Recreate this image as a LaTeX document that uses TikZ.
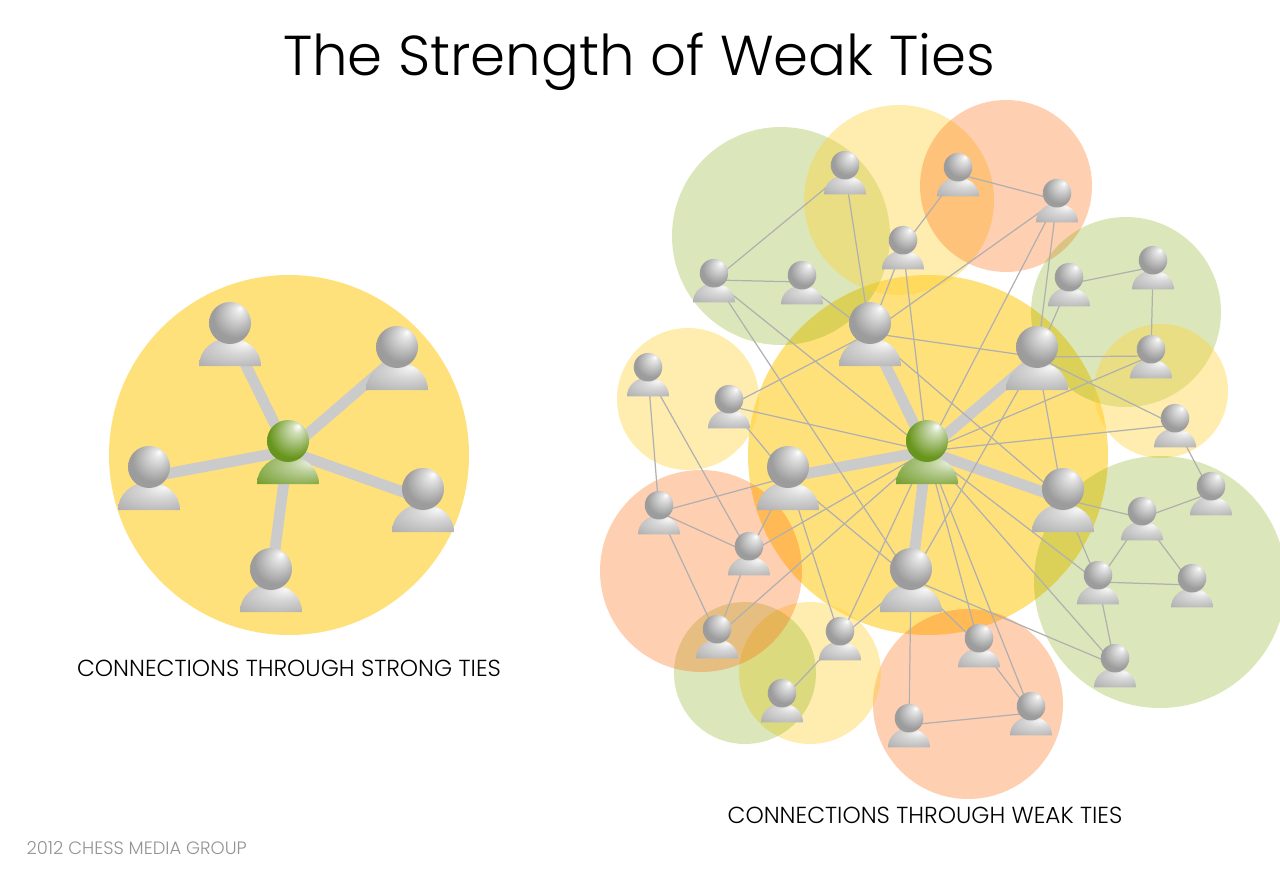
\documentclass[tikz,border=0pt]{standalone}
\usepackage{fontspec}
\setmainfont{Poppins}[UprightFont=* Light]
\usetikzlibrary{backgrounds}

\definecolor{tiegray}{HTML}{CBCBCB}
\definecolor{weakgray}{HTML}{B0B0B0}
\definecolor{headgray}{HTML}{9C9C9C}
\definecolor{headgreen}{HTML}{68951C}
\definecolor{sunyellow}{HTML}{FFD030}
\definecolor{leafgreen}{HTML}{7AA800}
\definecolor{peach}{HTML}{FF6000}

\pgfdeclareradialshading{grayhead}{\pgfpoint{12bp}{18bp}}{color(0bp)=(white);color(5bp)=(headgray!25!white);color(26bp)=(headgray);color(50bp)=(headgray)}
\pgfdeclareradialshading{graydome}{\pgfpoint{12bp}{16bp}}{color(0bp)=(headgray!8!white);color(14bp)=(headgray!40!white);color(50bp)=(headgray)}
\pgfdeclareradialshading{greenhead}{\pgfpoint{12bp}{18bp}}{color(0bp)=(white);color(6bp)=(headgreen!30!white);color(28bp)=(headgreen);color(50bp)=(headgreen)}
\pgfdeclareradialshading{greendome}{\pgfpoint{22bp}{16bp}}{color(0bp)=(headgreen!8!white);color(14bp)=(headgreen!45!white);color(44bp)=(headgreen);color(50bp)=(headgreen)}

\newcommand{\person}[5]{
  \node[hub] (#1) at (#2,#3) {};
  \begin{scope}[shift={(#1)},scale=#4]
    \shade[shading=#5dome] (-31,33) .. controls (-31,17) and (-17,5) .. (0,5) .. controls (17,5) and (31,17) .. (31,33) -- cycle;
    \shade[shading=#5head] (0,-10) circle (21);
  \end{scope}
}

\begin{document}
\begin{tikzpicture}[
  x=0.02cm, y=-0.02cm,
  hub/.style={inner sep=0pt, minimum size=0pt},
  tie/.style={draw=sunyellow, fill=sunyellow, draw opacity=0, fill opacity=0.64},
  palezone/.style={fill=sunyellow, fill opacity=0.39},
  greenzone/.style={fill=leafgreen, fill opacity=0.27},
  peachzone/.style={fill=peach, fill opacity=0.3},
  strong/.style={draw=tiegray, line width=6.2pt},
  weak/.style={draw=weakgray, line width=0.7pt},
  heading/.style={font=\fontsize{32}{36}\selectfont},
  caption/.style={font=\fontsize{13.2}{16}\selectfont},
  credit/.style={font=\fontsize{10.2}{12}\selectfont, text=gray!85}
]
\useasboundingbox (0,0) rectangle (1280,868);

\node[heading] (title) at (639,62) {The Strength of Weak Ties};
\node[caption] (strongcap) at (289,668) {CONNECTIONS THROUGH STRONG TIES};
\node[caption] (weakcap) at (925,815) {CONNECTIONS THROUGH WEAK TIES};
\node[credit, anchor=east] (credit) at (253,848) {2012 CHESS MEDIA GROUP};

\person{s0}{288}{451}{1}{green}
\person{s1}{230}{333}{1}{gray}
\person{s2}{397}{357}{1}{gray}
\person{s3}{149}{477}{1}{gray}
\person{s4}{423}{499}{1}{gray}
\person{s5}{271}{579}{1}{gray}

\person{c}{927}{451}{1}{green}
\person{a1}{870}{333}{1}{gray}
\person{a2}{1037}{357}{1}{gray}
\person{a3}{788}{477}{1}{gray}
\person{a4}{1063}{499}{1}{gray}
\person{a5}{911}{579}{1}{gray}

\person{b1}{845}{172}{0.68}{gray}
\person{b2}{958}{174}{0.68}{gray}
\person{b3}{1057}{200}{0.68}{gray}
\person{b4}{903}{247}{0.68}{gray}
\person{b5}{714}{280}{0.68}{gray}
\person{b6}{802}{282}{0.68}{gray}
\person{b7}{1069}{284}{0.68}{gray}
\person{b8}{1153}{267}{0.68}{gray}
\person{b9}{1151}{356}{0.68}{gray}
\person{b10}{1175}{425}{0.68}{gray}
\person{b11}{729}{406}{0.68}{gray}
\person{b12}{648}{374}{0.68}{gray}
\person{b13}{659}{512}{0.68}{gray}
\person{b14}{749}{553}{0.68}{gray}
\person{b15}{717}{636}{0.68}{gray}
\person{b16}{840}{638}{0.68}{gray}
\person{b17}{782}{700}{0.68}{gray}
\person{b18}{909}{725}{0.68}{gray}
\person{b19}{1031}{713}{0.68}{gray}
\person{b20}{979}{645}{0.68}{gray}
\person{b21}{1115}{665}{0.68}{gray}
\person{b22}{1098}{582}{0.68}{gray}
\person{b23}{1192}{585}{0.68}{gray}
\person{b24}{1142}{518}{0.68}{gray}
\person{b25}{1211}{493}{0.68}{gray}

\begin{pgfonlayer}{background}
\node[hub] (ringl) at (289,455) {};
\node[hub] (ringr) at (928,455) {};
\fill[tie] (ringl) circle (180);
\fill[tie] (ringr) circle (180);
\fill[greenzone] (781,236) circle (109);
\fill[palezone] (899,200) circle (95);
\fill[peachzone] (1006,186) circle (86);
\fill[greenzone] (1126,312) circle (95);
\fill[palezone] (1161,391) circle (67);
\fill[greenzone] (1160,582) circle (126);
\fill[peachzone] (968,704) circle (95);
\fill[palezone] (810,673) circle (71);
\fill[greenzone] (745,673) circle (71);
\fill[peachzone] (701,571) circle (101);
\fill[palezone] (688,399) circle (71);

\draw[strong] (s0) -- (s1);
\draw[strong] (s0) -- (s2);
\draw[strong] (s0) -- (s3);
\draw[strong] (s0) -- (s4);
\draw[strong] (s0) -- (s5);
\draw[strong] (c) -- (a1);
\draw[strong] (c) -- (a2);
\draw[strong] (c) -- (a3);
\draw[strong] (c) -- (a4);
\draw[strong] (c) -- (a5);

\draw[weak] (b1) -- (b5);
\draw[weak] (b1) -- (a1);
\draw[weak] (b2) -- (b3);
\draw[weak] (b2) -- (b4);
\draw[weak] (b3) -- (a1);
\draw[weak] (b3) -- (c);
\draw[weak] (b3) -- (a2);
\draw[weak] (b4) -- (a1);
\draw[weak] (b4) -- (c);
\draw[weak] (b5) -- (b6);
\draw[weak] (b6) -- (a1);
\draw[weak] (b5) -- (c);
\draw[weak] (b5) -- (a5);
\draw[weak] (b7) -- (a2);
\draw[weak] (b7) -- (b8);
\draw[weak] (b8) -- (b9);
\draw[weak] (a2) -- (b9);
\draw[weak] (a1) -- (a2);
\draw[weak] (a1) -- (b11);
\draw[weak] (a1) -- (a4);
\draw[weak] (a2) -- (a5);
\draw[weak] (a2) -- (a4);
\draw[weak] (a2) -- (b10);
\draw[weak] (c) -- (b9);
\draw[weak] (c) -- (b10);
\draw[weak] (b10) -- (b25);
\draw[weak] (c) -- (b11);
\draw[weak] (b11) -- (a3);
\draw[weak] (a3) -- (b13);
\draw[weak] (a3) -- (b14);
\draw[weak] (a3) -- (a5);
\draw[weak] (a3) -- (b16);
\draw[weak] (b12) -- (b13);
\draw[weak] (b12) -- (b14);
\draw[weak] (b13) -- (b14);
\draw[weak] (b13) -- (b15);
\draw[weak] (b14) -- (b15);
\draw[weak] (b14) -- (c);
\draw[weak] (b15) -- (c);
\draw[weak] (b16) -- (c);
\draw[weak] (b16) -- (a5);
\draw[weak] (b16) -- (b17);
\draw[weak] (a5) -- (b18);
\draw[weak] (a5) -- (b20);
\draw[weak] (a5) -- (b21);
\draw[weak] (c) -- (b20);
\draw[weak] (c) -- (b19);
\draw[weak] (c) -- (b21);
\draw[weak] (c) -- (b22);
\draw[weak] (b20) -- (b19);
\draw[weak] (b18) -- (b19);
\draw[weak] (a4) -- (b24);
\draw[weak] (a4) -- (b22);
\draw[weak] (b24) -- (b25);
\draw[weak] (b24) -- (b22);
\draw[weak] (b24) -- (b23);
\draw[weak] (b22) -- (b23);
\draw[weak] (b22) -- (b21);
\end{pgfonlayer}
\end{tikzpicture}
\end{document}
